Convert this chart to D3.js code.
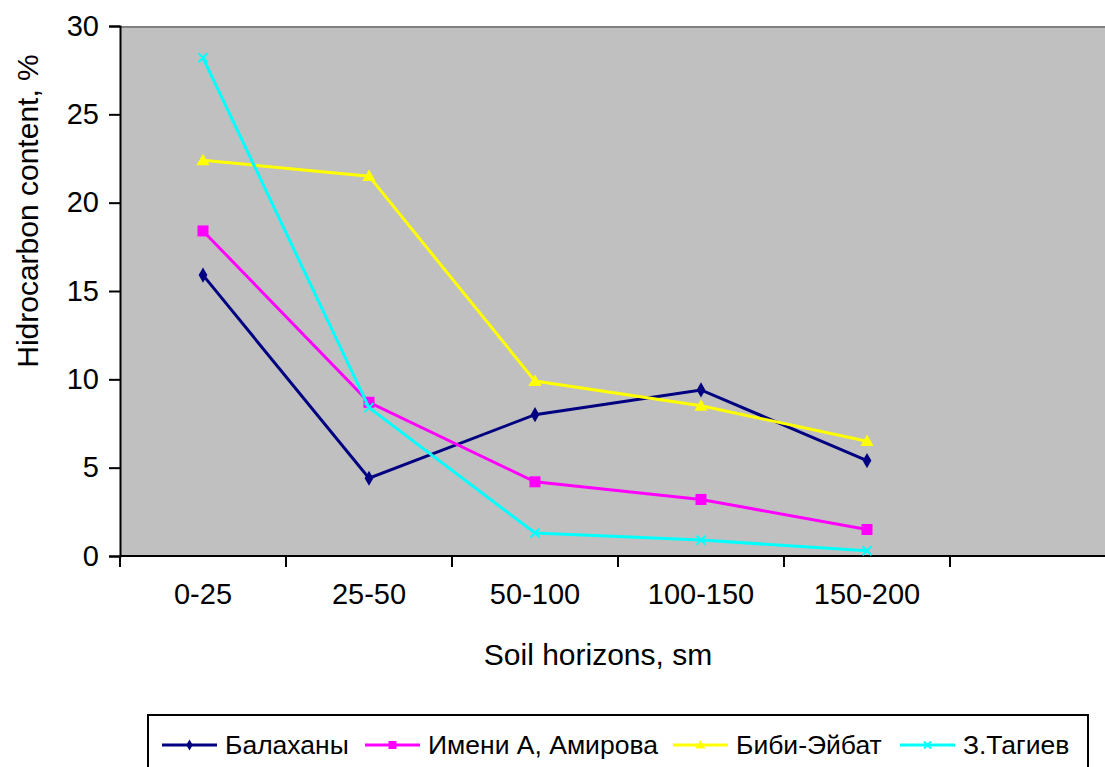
<!DOCTYPE html>
<html>
<head>
<meta charset="utf-8">
<script src="https://cdn.jsdelivr.net/npm/d3@7"></script>
<style>
  html, body { margin: 0; padding: 0; background: #fff; }
  svg { display: block; font-family: "Liberation Sans", Arial, sans-serif; }
</style>
</head>
<body>
<svg id="chart" width="1105" height="767"></svg>
<script>
// Soil horizons (depth bands, cm); the trailing empty slot keeps the extra axis band
const horizons = ["0-25", "25-50", "50-100", "100-150", "150-200", ""];
const yTicks = [0, 5, 10, 15, 20, 25, 30];

// Hydrocarbon content, % per oil field
const balakhany = [15.9, 4.4, 8.0, 9.4, 5.4];
const amirova   = [18.4, 8.7, 4.2, 3.2, 1.5];
const bibiEibat = [22.4, 21.5, 9.9, 8.5, 6.5];
const tagiev    = [28.2, 8.4, 1.3, 0.9, 0.3];

const seriesNames = ["Балаханы", "Имени А, Амирова", "Биби-Эйбат", "З.Тагиев"];
const seriesColors = ["#000080", "#ff00ff", "#ffff00", "#00ffff"];
const seriesMarkers = ["diamond", "square", "triangle", "cross"];

const series = [balakhany, amirova, bibiEibat, tagiev].map((values, i) => ({
  name: seriesNames[i], color: seriesColors[i], marker: seriesMarkers[i], values
}));

const svg = d3.select("#chart");
const plot = { left: 120, right: 1116, top: 26, bottom: 556 };
const font = "Liberation Sans, Arial, sans-serif";

const x = d3.scaleBand().domain(horizons).range([plot.left, plot.right]);
const y = d3.scaleLinear().domain([0, 30]).range([plot.bottom, plot.top]);

// plot background
svg.append("rect")
  .attr("x", plot.left).attr("y", plot.top)
  .attr("width", plot.right - plot.left).attr("height", plot.bottom - plot.top)
  .attr("fill", "#c0c0c0");
svg.append("line")
  .attr("x1", plot.left).attr("x2", plot.right)
  .attr("y1", plot.top + 1).attr("y2", plot.top + 1)
  .attr("stroke", "#808080").attr("stroke-width", 2);

// y axis
const yAxis = svg.append("g")
  .attr("transform", `translate(${plot.left},0)`)
  .call(d3.axisLeft(y).tickValues(yTicks).tickSize(11).tickPadding(10));
yAxis.select(".domain").attr("stroke", "#000").attr("stroke-width", 2);
yAxis.selectAll(".tick line").attr("stroke", "#000").attr("stroke-width", 2);
yAxis.selectAll("text").attr("font-size", 29).attr("fill", "#000")
  .attr("font-family", font);

// x axis: ticks on band boundaries
const xAxis = svg.append("g")
  .attr("transform", `translate(0,${plot.bottom})`);
xAxis.append("line")
  .attr("x1", plot.left).attr("x2", plot.right)
  .attr("stroke", "#000").attr("stroke-width", 2);
xAxis.selectAll(".xtick")
  .data(horizons)
  .join("line")
  .attr("class", "xtick")
  .attr("x1", d => x(d)).attr("x2", d => x(d))
  .attr("y1", 0).attr("y2", 11)
  .attr("stroke", "#000").attr("stroke-width", 2);
xAxis.selectAll(".xlabel")
  .data(horizons.filter(d => d))
  .join("text")
  .attr("class", "xlabel")
  .attr("x", d => x(d) + x.bandwidth() / 2)
  .attr("y", 48)
  .attr("text-anchor", "middle")
  .attr("font-size", 29)
  .text(d => d);

// axis titles
svg.append("text")
  .attr("x", 598).attr("y", 665)
  .attr("text-anchor", "middle").attr("font-size", 30)
  .text("Soil horizons, sm");
svg.append("text")
  .attr("transform", `translate(38,${(plot.top + plot.bottom) / 2 - 80}) rotate(-90)`)
  .attr("text-anchor", "middle").attr("font-size", 30)
  .text("Hidrocarbon content, %");

// markers
function drawMarker(g, type, color, size) {
  const s = size;
  if (type === "diamond") {
    g.append("path").attr("d", d3.symbol(d3.symbolDiamond, s * s * 0.55)()).attr("fill", color);
  } else if (type === "square") {
    g.append("rect").attr("x", -s / 2).attr("y", -s / 2).attr("width", s).attr("height", s).attr("fill", color);
  } else if (type === "triangle") {
    g.append("path").attr("d", `M0,${-s * 0.6}L${s * 0.6},${s * 0.45}L${-s * 0.6},${s * 0.45}Z`).attr("fill", color);
  } else {
    const h = s / 2;
    g.append("path").attr("d", `M${-h},${-h}L${h},${h}M${-h},${h}L${h},${-h}`)
      .attr("stroke", color).attr("stroke-width", 2);
  }
}

const line = d3.line()
  .x((d, i) => x(horizons[i]) + x.bandwidth() / 2)
  .y(d => y(d));

series.forEach(s => {
  const g = svg.append("g");
  g.append("path").datum(s.values)
    .attr("d", line).attr("fill", "none")
    .attr("stroke", s.color).attr("stroke-width", 3);
  s.values.forEach((v, i) => {
    const m = g.append("g")
      .attr("transform", `translate(${x(horizons[i]) + x.bandwidth() / 2},${y(v)})`);
    drawMarker(m, s.marker, s.color, s.marker === "cross" ? 9 : 11);
  });
});

// legend
const legend = svg.append("g");
legend.append("rect")
  .attr("x", 148).attr("y", 715).attr("width", 940).attr("height", 60)
  .attr("fill", "#fff").attr("stroke", "#000").attr("stroke-width", 2);
const legendX = [162, 365, 673, 900];
series.forEach((s, i) => {
  const g = legend.append("g").attr("transform", `translate(${legendX[i]},745)`);
  g.append("line").attr("x1", 0).attr("x2", 55).attr("stroke", s.color).attr("stroke-width", 3);
  const m = g.append("g").attr("transform", "translate(27.5,0)");
  drawMarker(m, s.marker, s.color, s.marker === "cross" ? 7 : 8);
  g.append("text").attr("x", 63).attr("y", 9).attr("font-size", 26.5).text(s.name);
});
</script>
</body>
</html>
